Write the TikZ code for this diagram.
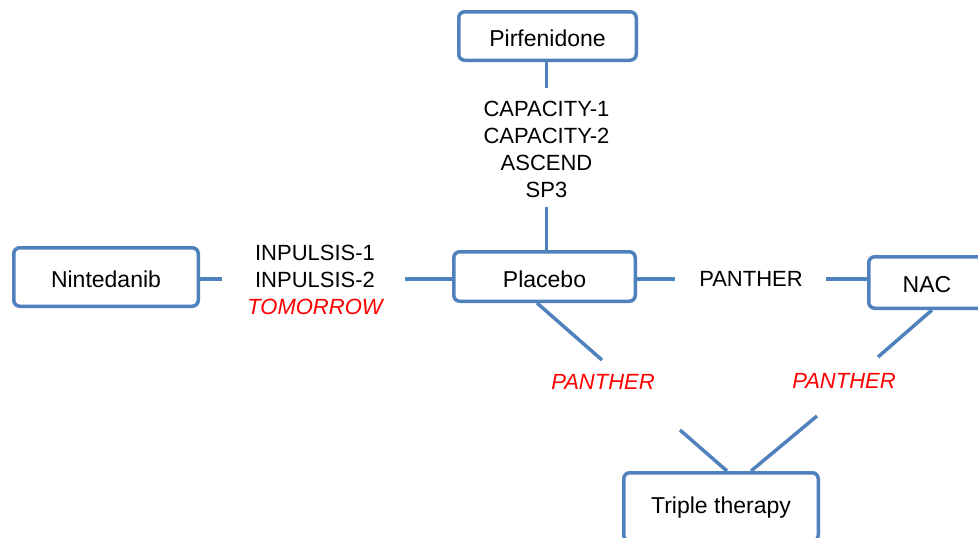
\documentclass[tikz,border=0pt]{standalone}
\usepackage{fontspec}
\setmainfont{Liberation Sans}
\definecolor{boxblue}{RGB}{79,129,189}
\begin{document}
\begin{tikzpicture}[x=1pt,y=-1pt,
  box/.style={draw=boxblue, line width=3.5pt, rounded corners=6pt, fill=white,
    inner sep=0pt, text height=20pt, text depth=0pt, font=\fontsize{23}{27}\selectfont},
  link/.style={draw=boxblue, line width=3.5pt},
  trial/.style={align=center, inner sep=0pt, font=\fontsize{22}{27}\selectfont},
  redtrial/.style={text=red, inner sep=0pt, font=\fontsize{22}{27}\selectfont\itshape}]
\useasboundingbox (0,0) rectangle (978,538);
\clip (0,0) rectangle (978,538);

% treatment boxes
\node[box, minimum width=177.5pt, minimum height=48.5pt] (pirf) at (547.5,36) {Pirfenidone};
\node[box, minimum width=181.5pt, minimum height=49.5pt, text height=22pt] (placebo) at (544.5,276.5) {Placebo};
\node[box, minimum width=184.5pt, minimum height=58.5pt] (nint) at (106,277) {Nintedanib};
\node[box, minimum width=116.5pt, minimum height=51.5pt, text height=19pt] (nac) at (927,282.5) {NAC};
\node[box, minimum width=194.5pt, minimum height=68.5pt, text height=17pt, text depth=5pt] (triple) at (721,507) {Triple therapy};

% trial labels
\node[trial] (capacity) at (546.5,149) {CAPACITY-1\\CAPACITY-2\\ASCEND\\SP3};
\node[trial] (inpulsis) at (315,280) {INPULSIS-1\\INPULSIS-2\\{\color{red}\itshape TOMORROW}};
\node[trial] (panther) at (751,279) {PANTHER};
\node[redtrial] (pantherA) at (603,382) {PANTHER};
\node[redtrial] (pantherB) at (844,381) {PANTHER};

% label gaps
\coordinate (capTop) at (546.5,88);
\coordinate (capBot) at (546.5,207);
\coordinate (inpL) at (222,279);
\coordinate (inpR) at (405,279);
\coordinate (panL) at (675,279);
\coordinate (panR) at (826,279);
\coordinate (pa) at (602,360);
\coordinate (pb) at (680,430);
\coordinate (na) at (878,357);
\coordinate (nb) at (817,416);

% comparisons
\begin{scope}[on background layer/.try]
\draw[link] (pirf.south -| capTop) -- (capTop);
\draw[link] (capBot) -- (capBot |- placebo.north);
\draw[link] (inpL -| nint.east) -- (inpL);
\draw[link] (inpR) -- (inpR -| placebo.west);
\draw[link] (panL -| placebo.east) -- (panL);
\draw[link] (panR) -- (panR -| nac.west);
\draw[link] ([xshift=-7.5pt]placebo.south) -- (pa);
\draw[link] (pb) -- ([xshift=6pt]triple.north);
\draw[link] ([xshift=5pt]nac.south) -- (na);
\draw[link] (nb) -- ([xshift=30pt]triple.north);
\end{scope}
\end{tikzpicture}
\end{document}
